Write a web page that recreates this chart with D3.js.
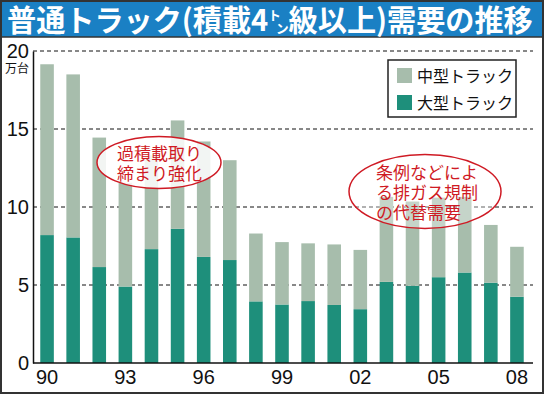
<!DOCTYPE html>
<html lang="ja">
<head>
    <meta charset="UTF-8">
    <title>普通トラック需要の推移</title>
    <script src="https://d3js.org/d3.v7.min.js"></script>
    <style>
        body { margin: 0; background: #fff; }
        svg { display: block; }
    </style>
</head>
<body>
<script>
    // 年（横軸）
    var years = ['90', '91', '92', '93', '94', '95', '96', '97', '98', '99',
                 '00', '01', '02', '03', '04', '05', '06', '07', '08'];
    // 横軸に表示する目盛り
    var xTickLabels = ['90', '93', '96', '99', '02', '05', '08'];
    // 大型トラック（万台）
    var largeTrucks = [8.2, 8.05, 6.15, 4.9, 7.3, 8.6, 6.8, 6.6, 3.95, 3.75,
                       3.97, 3.72, 3.45, 5.2, 4.95, 5.5, 5.8, 5.15, 4.25];
    // 中型トラック（万台）
    var mediumTrucks = [10.95, 10.45, 8.3, 6.65, 6.0, 6.95, 7.4, 6.4, 4.35, 4.0,
                        3.7, 3.88, 3.8, 5.45, 5.4, 5.1, 4.85, 3.7, 3.2];
    // 縦軸の目盛り
    var yTicks = [0, 5, 10, 15, 20];
    // 凡例
    var seriesNames = ['中型トラック', '大型トラック'];
    // 注記
    var note1 = ['過積載取り', '締まり強化'];
    var note2 = ['条例などによ', 'る排ガス規制', 'の代替需要'];

    var width = 544;
    var height = 395;
    var colors = {large: '#1e8f7b', medium: '#a7bdac', red: '#cf1a24', blue: '#1a80c4'};
    var jp = '"Noto Sans CJK JP", "Noto Sans", sans-serif';
    var num = '"Liberation Sans", Arial, sans-serif';

    var svg = d3.select('body').append('svg').attr('width', width).attr('height', height);

    // 背景・枠
    svg.append('rect').attr('x', 0).attr('y', 0).attr('width', width).attr('height', height).attr('fill', '#fff');
    svg.append('rect').attr('x', 0).attr('y', 0).attr('width', width).attr('height', 37).attr('fill', colors.blue);
    svg.append('line').attr('x1', 0).attr('x2', width).attr('y1', 37).attr('y2', 37)
        .attr('stroke', '#333').attr('stroke-width', 1.5);
    svg.append('rect').attr('x', 1).attr('y', 1).attr('width', width - 2).attr('height', height - 3)
        .attr('fill', 'none').attr('stroke', '#333').attr('stroke-width', 2);

    // タイトル（横幅に合わせて少し縮める）
    var titleG = svg.append('g');
    var title = titleG.append('text').attr('x', 0).attr('y', 0)
        .attr('fill', '#fff').attr('font-family', jp).attr('font-weight', 'bold').attr('font-size', 30);
    title.append('tspan').text('普通トラック(積載4');
    title.append('tspan').attr('font-size', 13).attr('dy', -11).text('ト');
    title.append('tspan').attr('font-size', 13).attr('dx', -5).attr('dy', 13).text('ン');
    title.append('tspan').attr('dy', -2).text('級以上)需要の推移');
    var tw = title.node().getBBox().width;
    var sx = Math.min(1, 526 / tw);
    titleG.attr('transform', 'translate(7,31) scale(' + sx + ',1)');

    // スケール
    var x = d3.scaleBand().domain(years).range([34, 530]).paddingInner(0.48).paddingOuter(0.24);
    var y = d3.scaleLinear().domain([0, 20]).range([363, 51]);

    // 補助線（破線）
    svg.append('g').selectAll('line').data(yTicks.filter(d => d > 0)).enter().append('line')
        .attr('x1', 33).attr('x2', 533)
        .attr('y1', d => y(d)).attr('y2', d => y(d))
        .attr('stroke', '#111').attr('stroke-width', 1).attr('stroke-dasharray', '4,3');

    // 積み上げ
    var table = years.map((d, i) => ({year: d, large: largeTrucks[i], medium: mediumTrucks[i]}));
    var stack = d3.stack().keys(['large', 'medium'])(table);

    svg.append('g').selectAll('g').data(stack).enter().append('g')
        .attr('fill', d => colors[d.key])
        .selectAll('rect').data(d => d).enter().append('rect')
        .attr('x', d => x(d.data.year))
        .attr('y', d => y(d[1]))
        .attr('width', x.bandwidth())
        .attr('height', d => y(d[0]) - y(d[1]));

    // 軸
    var yAxis = d3.axisLeft(y).tickValues(yTicks).tickSize(0).tickPadding(4);
    var gy = svg.append('g').attr('transform', 'translate(33,0)').call(yAxis);
    gy.select('.domain').attr('stroke', '#111').attr('stroke-width', 1.5);
    gy.selectAll('text').attr('font-family', num).attr('font-size', 20).attr('fill', '#111');

    var xAxis = d3.axisBottom(x).tickValues(xTickLabels).tickSize(0).tickPadding(7);
    var gx = svg.append('g').attr('transform', 'translate(0,363)').call(xAxis);
    gx.select('.domain').attr('d', 'M33,0H533').attr('stroke', '#111').attr('stroke-width', 1.5);
    gx.selectAll('text').attr('font-family', num).attr('font-size', 20).attr('fill', '#111');

    // 単位
    svg.append('text').attr('x', 5).attr('y', 73).attr('font-family', jp).attr('font-size', 12)
        .attr('fill', '#111').text('万台');

    // 凡例
    var legend = svg.append('g');
    legend.append('rect').attr('x', 388).attr('y', 60).attr('width', 128).attr('height', 57)
        .attr('fill', '#fff').attr('stroke', '#222').attr('stroke-width', 1.5);
    var legendColors = [colors.medium, colors.large];
    seriesNames.forEach((name, i) => {
        legend.append('rect').attr('x', 397).attr('y', 68 + i * 27).attr('width', 15).attr('height', 15)
            .attr('fill', legendColors[i]);
        legend.append('text').attr('x', 417).attr('y', 82 + i * 27)
            .attr('font-family', jp).attr('font-size', 16).attr('fill', '#111').text(name);
    });

    // 注記
    function drawNote(lines, cx, cy, rx, ry, tx, ty, fillOpacity) {
        var g = svg.append('g');
        g.append('ellipse').attr('cx', cx).attr('cy', cy).attr('rx', rx).attr('ry', ry)
            .attr('fill', '#fff').attr('fill-opacity', fillOpacity)
            .attr('stroke', colors.red).attr('stroke-width', 1.5);
        g.selectAll('text').data(lines).enter().append('text')
            .attr('x', tx).attr('y', (d, i) => ty + i * 20)
            .attr('font-family', jp).attr('font-size', 17).attr('fill', colors.red)
            .text(d => d);
    }
    drawNote(note1, 159, 162.5, 62, 26, 117, 160, 0.85);
    drawNote(note2, 425, 191.5, 76, 37, 376, 179, 0.35);
</script>
</body>
</html>
